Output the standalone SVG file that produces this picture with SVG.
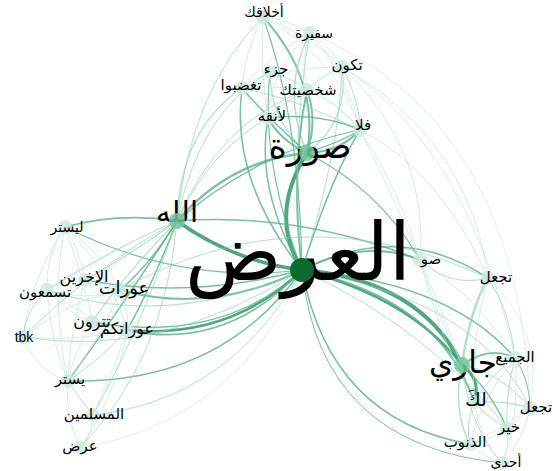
<svg xmlns="http://www.w3.org/2000/svg" width="553" height="471" viewBox="0 0 553 471">
<style>
path{fill:none;stroke-linecap:round}
.s{stroke:#3e9d6d;stroke-opacity:.9}
.m{stroke:#56b487;stroke-opacity:.8}
.l{stroke:#8bd0b1;stroke-opacity:.65}
.f{stroke:#b9e3d2;stroke-opacity:.6}
text{font-family:"DejaVu Sans","Noto Sans",sans-serif;fill:#000;text-anchor:middle}
.n{fill:#cfe9e0;fill-opacity:.85}
.k{fill:#72c7a0;fill-opacity:.85}
.h{fill:#0b6b2e}
</style>
<rect width="553" height="471" fill="#fff"/>
<g id="edges">
<path class="s" stroke-width="4" d="M302,270 Q268,215 307,153"/>
<path class="m" stroke-width="2" d="M302,270 Q290,170 307,90"/>
<path class="s" stroke-width="3.5" d="M302,270 Q235,262 177,221"/>
<path class="s" stroke-width="4" d="M302,270 Q420,280 462,365"/>
<path class="s" stroke-width="2.5" d="M302,270 Q410,298 462,365"/>
<path class="m" stroke-width="2" d="M302,270 Q440,300 474,402"/>
<path class="m" stroke-width="1.5" d="M302,270 Q450,282 515,358"/>
<path class="m" stroke-width="1.5" d="M302,270 Q400,220 488,278"/>
<path class="m" stroke-width="2" d="M302,270 Q365,238 420,260"/>
<path class="l" stroke-width="1" d="M302,270 Q480,300 530,408"/>
<path class="m" stroke-width="1.5" d="M302,270 Q330,420 470,444"/>
<path class="l" stroke-width="1" d="M302,270 Q430,330 507,428"/>
<path class="m" stroke-width="1" d="M302,270 Q320,445 502,463"/>
<path class="s" stroke-width="2.5" d="M302,270 Q230,340 127,330"/>
<path class="m" stroke-width="1.8" d="M302,270 Q225,352 127,330"/>
<path class="m" stroke-width="1.5" d="M302,270 Q220,345 92,322"/>
<path class="m" stroke-width="2" d="M302,270 Q210,315 120,290"/>
<path class="m" stroke-width="1.5" d="M302,270 Q190,300 85,280"/>
<path class="m" stroke-width="1.2" d="M302,270 Q180,285 65,227"/>
<path class="l" stroke-width="1.2" d="M302,270 Q170,330 47,290"/>
<path class="l" stroke-width="1" d="M302,270 Q160,360 23,337"/>
<path class="m" stroke-width="1.5" d="M302,270 Q220,385 68,381"/>
<path class="l" stroke-width="1" d="M302,270 Q230,400 93,415"/>
<path class="f" stroke-width="0.8" d="M302,270 Q240,420 80,448"/>
<path class="m" stroke-width="1.2" d="M302,270 Q300,120 263,17"/>
<path class="m" stroke-width="1.5" d="M302,270 Q230,180 242,88"/>
<path class="m" stroke-width="1.5" d="M302,270 Q255,190 268,118"/>
<path class="m" stroke-width="1.5" d="M302,270 Q330,180 360,130"/>
<path class="l" stroke-width="1" d="M302,270 Q340,150 342,67"/>
<path class="m" stroke-width="1.2" d="M302,270 Q260,160 270,72"/>
<path class="l" stroke-width="1" d="M302,270 Q290,140 310,33"/>
<path class="m" stroke-width="2" d="M263,17 Q320,80 307,153"/>
<path class="l" stroke-width="1.5" d="M307,153 Q280,90 310,33"/>
<path class="l" stroke-width="1.2" d="M307,153 Q350,120 342,67"/>
<path class="l" stroke-width="1.2" d="M307,153 Q270,120 270,72"/>
<path class="m" stroke-width="1.5" d="M307,153 Q260,110 242,88"/>
<path class="m" stroke-width="2" d="M307,153 Q318,120 307,90"/>
<path class="m" stroke-width="2" d="M307,153 Q280,140 268,118"/>
<path class="m" stroke-width="2" d="M307,153 Q340,152 360,130"/>
<path class="m" stroke-width="1.5" d="M307,153 Q345,140 360,130"/>
<path class="l" stroke-width="1" d="M360,130 Q300,100 242,88"/>
<path class="m" stroke-width="1.5" d="M360,130 Q320,112 268,118"/>
<path class="m" stroke-width="2.5" d="M177,221 Q230,160 307,153"/>
<path class="l" stroke-width="1.2" d="M177,221 Q180,130 242,88"/>
<path class="l" stroke-width="1" d="M177,221 Q190,90 263,17"/>
<path class="l" stroke-width="1" d="M177,221 Q210,150 268,118"/>
<path class="l" stroke-width="1" d="M177,221 Q220,120 307,90"/>
<path class="m" stroke-width="1.2" d="M177,221 Q260,150 360,130"/>
<path class="l" stroke-width="1" d="M177,221 Q200,110 270,72"/>
<path class="m" stroke-width="1.5" d="M177,221 Q120,212 65,227"/>
<path class="l" stroke-width="1.2" d="M177,221 Q130,255 85,280"/>
<path class="m" stroke-width="1.5" d="M177,221 Q150,265 120,290"/>
<path class="l" stroke-width="1.2" d="M177,221 Q110,250 47,290"/>
<path class="l" stroke-width="1" d="M177,221 Q90,270 23,337"/>
<path class="l" stroke-width="1.2" d="M177,221 Q120,280 92,322"/>
<path class="m" stroke-width="1.5" d="M177,221 Q150,290 127,330"/>
<path class="m" stroke-width="1.5" d="M177,221 Q120,310 68,381"/>
<path class="l" stroke-width="1" d="M177,221 Q140,330 93,415"/>
<path class="l" stroke-width="1" d="M177,221 Q165,360 80,448"/>
<path class="m" stroke-width="1.5" d="M177,221 Q300,212 420,260"/>
<path class="l" stroke-width="1" d="M120,290 Q300,190 488,278"/>
<path class="f" stroke-width="1" d="M65,227 Q45,255 47,290"/>
<path class="f" stroke-width="1" d="M65,227 Q80,250 85,280"/>
<path class="f" stroke-width="1" d="M65,227 Q100,250 120,290"/>
<path class="f" stroke-width="1" d="M65,227 Q110,270 127,330"/>
<path class="f" stroke-width="1" d="M65,227 Q30,280 23,337"/>
<path class="f" stroke-width="1" d="M65,227 Q50,300 68,381"/>
<path class="f" stroke-width="1" d="M65,227 Q90,300 92,322"/>
<path class="l" stroke-width="1" d="M47,290 Q25,310 23,337"/>
<path class="f" stroke-width="1" d="M47,290 Q85,302 120,290"/>
<path class="f" stroke-width="1" d="M47,290 Q90,322 127,330"/>
<path class="f" stroke-width="1" d="M47,290 Q70,315 92,322"/>
<path class="f" stroke-width="1" d="M47,290 Q50,340 68,381"/>
<path class="f" stroke-width="1" d="M23,337 Q35,370 68,381"/>
<path class="f" stroke-width="1" d="M23,337 Q70,300 120,290"/>
<path class="f" stroke-width="1" d="M23,337 Q80,342 127,330"/>
<path class="f" stroke-width="1" d="M85,280 Q100,290 120,290"/>
<path class="f" stroke-width="1" d="M85,280 Q110,310 127,330"/>
<path class="f" stroke-width="1" d="M92,322 Q110,330 127,330"/>
<path class="l" stroke-width="1" d="M68,381 Q80,400 93,415"/>
<path class="f" stroke-width="1" d="M68,381 Q65,420 80,448"/>
<path class="f" stroke-width="1" d="M93,415 Q92,435 80,448"/>
<path class="f" stroke-width="1" d="M120,290 Q130,310 127,330"/>
<path class="f" stroke-width="1" d="M120,290 Q100,340 68,381"/>
<path class="l" stroke-width="1" d="M127,330 Q100,360 68,381"/>
<path class="f" stroke-width="1" d="M127,330 Q110,380 93,415"/>
<path class="f" stroke-width="1" d="M127,330 Q115,400 80,448"/>
<path class="f" stroke-width="1" d="M85,280 Q70,330 68,381"/>
<path class="f" stroke-width="1" d="M92,322 Q75,350 68,381"/>
<path class="f" stroke-width="1" d="M263,17 Q290,20 310,33"/>
<path class="f" stroke-width="1" d="M263,17 Q310,35 342,67"/>
<path class="f" stroke-width="1" d="M263,17 Q245,50 242,88"/>
<path class="f" stroke-width="1" d="M263,17 Q290,50 307,90"/>
<path class="f" stroke-width="1" d="M263,17 Q340,60 360,130"/>
<path class="f" stroke-width="1" d="M263,17 Q260,70 268,118"/>
<path class="f" stroke-width="1" d="M310,33 Q330,45 342,67"/>
<path class="f" stroke-width="1" d="M310,33 Q270,55 242,88"/>
<path class="f" stroke-width="1" d="M310,33 Q300,60 307,90"/>
<path class="f" stroke-width="1" d="M310,33 Q350,80 360,130"/>
<path class="f" stroke-width="1" d="M310,33 Q270,70 268,118"/>
<path class="f" stroke-width="1" d="M342,67 Q290,65 242,88"/>
<path class="f" stroke-width="1" d="M342,67 Q320,75 307,90"/>
<path class="l" stroke-width="1" d="M342,67 Q360,100 360,130"/>
<path class="f" stroke-width="1" d="M342,67 Q300,90 268,118"/>
<path class="f" stroke-width="1" d="M270,72 Q290,78 307,90"/>
<path class="f" stroke-width="1" d="M270,72 Q330,90 360,130"/>
<path class="f" stroke-width="1" d="M270,72 Q255,78 242,88"/>
<path class="f" stroke-width="1" d="M242,88 Q275,85 307,90"/>
<path class="f" stroke-width="1" d="M242,88 Q250,105 268,118"/>
<path class="f" stroke-width="1" d="M307,90 Q340,105 360,130"/>
<path class="f" stroke-width="1" d="M307,90 Q285,100 268,118"/>
<path class="m" stroke-width="1.2" d="M307,153 Q380,190 420,260"/>
<path class="f" stroke-width="1" d="M360,130 Q440,170 488,278"/>
<path class="f" stroke-width="1" d="M342,67 Q470,150 515,358"/>
<path class="f" stroke-width="0.8" d="M310,33 Q520,120 530,408"/>
<path class="f" stroke-width="1" d="M360,130 Q420,250 462,365"/>
<path class="f" stroke-width="1" d="M342,67 Q430,150 420,260"/>
<path class="f" stroke-width="1" d="M342,67 Q470,140 488,278"/>
<path class="f" stroke-width="1" d="M360,130 Q400,190 420,260"/>
<path class="s" stroke-width="3" d="M462,365 Q482,380 474,402"/>
<path class="m" stroke-width="1.5" d="M462,365 Q490,345 515,358"/>
<path class="l" stroke-width="2.5" d="M462,365 Q470,310 488,278"/>
<path class="m" stroke-width="1.5" d="M462,365 Q490,390 507,428"/>
<path class="l" stroke-width="1.5" d="M462,365 Q452,410 470,444"/>
<path class="l" stroke-width="1" d="M462,365 Q470,430 502,463"/>
<path class="l" stroke-width="1" d="M462,365 Q500,372 530,408"/>
<path class="l" stroke-width="1" d="M488,278 Q510,310 515,358"/>
<path class="f" stroke-width="1" d="M488,278 Q470,340 474,402"/>
<path class="f" stroke-width="0.8" d="M488,278 Q545,330 530,408"/>
<path class="l" stroke-width="1" d="M515,358 Q490,375 474,402"/>
<path class="m" stroke-width="1" d="M515,358 Q530,380 530,408"/>
<path class="l" stroke-width="1" d="M515,358 Q505,395 507,428"/>
<path class="f" stroke-width="1" d="M515,358 Q480,400 470,444"/>
<path class="f" stroke-width="1" d="M515,358 Q520,420 502,463"/>
<path class="l" stroke-width="1.2" d="M474,402 Q505,400 530,408"/>
<path class="l" stroke-width="1" d="M474,402 Q490,420 507,428"/>
<path class="l" stroke-width="1" d="M474,402 Q465,425 470,444"/>
<path class="f" stroke-width="1" d="M474,402 Q480,440 502,463"/>
<path class="f" stroke-width="1" d="M530,408 Q520,420 507,428"/>
<path class="f" stroke-width="1" d="M507,428 Q490,440 470,444"/>
<path class="f" stroke-width="1" d="M507,428 Q510,448 502,463"/>
<path class="f" stroke-width="1" d="M470,444 Q485,458 502,463"/>
<path class="f" stroke-width="1" d="M530,408 Q525,440 502,463"/>
<path class="f" stroke-width="1" d="M530,408 Q500,430 470,444"/>
<path class="l" stroke-width="1" d="M420,260 Q450,288 488,278"/>
<path class="f" stroke-width="1" d="M420,260 Q480,300 515,358"/>
<path class="f" stroke-width="1" d="M420,260 Q435,310 462,365"/>
<path class="f" stroke-width="1" d="M420,260 Q440,340 474,402"/>
</g>
<g id="n-top1"><circle class="n" cx="263" cy="17" r="7"/><text x="264" y="17" font-size="14">أخلاقك</text></g>
<g id="n-top2"><circle class="n" cx="310" cy="33" r="7"/><text x="314" y="38" font-size="14">سفيرة</text></g>
<g id="n-top3"><circle class="n" cx="342" cy="67" r="7"/><text x="347" y="70" font-size="15">تكون</text></g>
<g id="n-top4"><circle class="n" cx="270" cy="72" r="7"/><text x="276" y="74" font-size="15">جزء</text></g>
<g id="n-top5"><circle class="n" cx="242" cy="88" r="7"/><text x="241" y="90" font-size="15">تغضبوا</text></g>
<g id="n-top6"><circle class="n" cx="307" cy="90" r="7"/><text x="308" y="95" font-size="15">شخصيتك</text></g>
<g id="n-top7"><circle class="n" cx="268" cy="118" r="7"/><text x="272" y="121" font-size="15">لأنقه</text></g>
<g id="n-top8"><circle class="n" cx="360" cy="130" r="7"/><text x="363" y="130" font-size="15">فلا</text></g>
<g id="n-sura"><text x="310" y="158" font-size="35">صورة</text><circle class="k" cx="307" cy="153" r="8"/></g>
<g id="n-allah"><text x="177" y="222" font-size="29">الله</text><circle class="k" cx="177" cy="221" r="8"/></g>
<g id="n-left1"><circle class="n" cx="65" cy="227" r="7"/><text x="67" y="232" font-size="14">ليستر</text></g>
<g id="n-left2"><circle class="n" cx="85" cy="280" r="7"/><text x="84" y="282" font-size="16">الإخرين</text></g>
<g id="n-left3"><circle class="n" cx="120" cy="290" r="7"/><text x="124" y="294" font-size="18">عورات</text></g>
<g id="n-left4"><circle class="n" cx="47" cy="290" r="7"/><text x="45" y="297" font-size="15">تسمعون</text></g>
<g id="n-left5"><circle class="n" cx="23" cy="337" r="7"/><text x="24" y="342" font-size="14" style="font-family:'Liberation Sans',sans-serif">tbk</text></g>
<g id="n-left6"><circle class="n" cx="92" cy="322" r="7"/><text x="92" y="327" font-size="16">تترون</text></g>
<g id="n-left7"><circle class="n" cx="127" cy="330" r="7"/><text x="127" y="334" font-size="16">عوراتكم</text></g>
<g id="n-left8"><circle class="n" cx="68" cy="381" r="7"/><text x="70" y="384" font-size="15">يستر</text></g>
<g id="n-left9"><circle class="n" cx="93" cy="415" r="7"/><text x="94" y="419" font-size="15">المسلمين</text></g>
<g id="n-left10"><circle class="n" cx="80" cy="448" r="7"/><text x="80" y="451" font-size="15">عرض</text></g>
<g id="n-right0"><circle class="n" cx="420" cy="260" r="7"/><text x="431" y="264" font-size="15">صو</text></g>
<g id="n-right1"><circle class="n" cx="488" cy="278" r="7"/><text x="496" y="282" font-size="15">تجعل</text></g>
<g id="n-right2"><circle class="n" cx="515" cy="358" r="7"/><text x="515" y="362" font-size="15">الجميع</text></g>
<g id="n-jari"><text x="463" y="373" font-size="31">جاري</text><circle class="k" cx="462" cy="365" r="8"/></g>
<g id="n-right3"><circle class="n" cx="474" cy="402" r="7"/><text x="476" y="406" font-size="19">لكَ</text></g>
<g id="n-right4"><circle class="n" cx="530" cy="408" r="7"/><text x="536" y="412" font-size="15">تجعل</text></g>
<g id="n-right5"><circle class="n" cx="507" cy="428" r="7"/><text x="509" y="432" font-size="15">خير</text></g>
<g id="n-right6"><circle class="n" cx="470" cy="444" r="7"/><text x="465" y="447" font-size="15">الذنوب</text></g>
<g id="n-right7"><circle class="n" cx="502" cy="463" r="7"/><text x="506" y="467" font-size="14">أحدى</text></g>
<g id="n-hub"><text x="298" y="280" font-size="80">العرض</text><circle class="h" cx="302" cy="270" r="12"/></g>
</svg>
